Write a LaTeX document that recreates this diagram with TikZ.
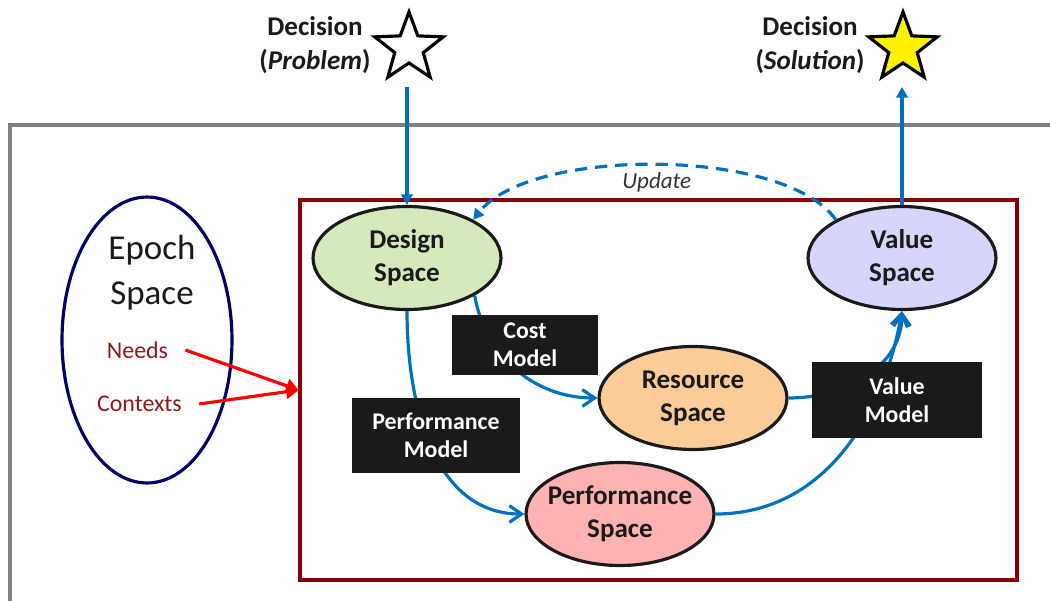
\documentclass[tikz,border=0pt]{standalone}
\usepackage{fontspec}
\setmainfont{Carlito}
\usetikzlibrary{shapes.geometric,arrows.meta}
\definecolor{flowblue}{RGB}{0,112,192}
\definecolor{framered}{RGB}{139,0,0}
\definecolor{epochnavy}{RGB}{0,0,102}
\definecolor{needred}{RGB}{140,26,26}
\definecolor{designgreen}{RGB}{213,233,189}
\definecolor{valuelilac}{RGB}{214,214,253}
\definecolor{resourcepeach}{RGB}{251,204,152}
\definecolor{perfpink}{RGB}{255,178,178}
\definecolor{boxblack}{RGB}{26,26,26}

\begin{document}
\begin{tikzpicture}[x=0.02cm, y=0.02cm,
	space/.style={ellipse, draw=boxblack, line width=1.8pt, inner sep=0pt, minimum width=3.76cm, minimum height=2.06cm},
	spacetext/.style={align=center, text=boxblack, font=\fontsize{15.4}{18.8}\selectfont\bfseries},
	modelbox/.style={fill=boxblack, text=white, align=center, font=\fontsize{13.6}{16}\selectfont\bfseries},
	decstar/.style={star, star points=5, star point ratio=2.4, draw=black, line width=1.8pt, inner sep=0pt, minimum size=1.44cm},
	dectext/.style={align=center, text=boxblack, font=\fontsize{15.4}{19.3}\selectfont\bfseries},
	epochlabel/.style={text=needred, font=\fontsize{13.6}{16}\selectfont, inner xsep=0.34cm},
	flow/.style={draw=flowblue, line width=1.8pt, -{Triangle[length=6pt, width=6.5pt]}},
	feed/.style={draw=flowblue, line width=1.8pt, -{Straight Barb[length=7pt, width=9.5pt]}},
	driver/.style={draw=red, line width=1.8pt, -{Triangle[length=7pt, width=8pt]}}]
	\useasboundingbox (0,0) rectangle (1050,600);
	\clip (0,0) rectangle (1050,600);
	\draw[draw=black!50, line width=2pt] (10,475) rectangle (1080,-20);
	\node[draw=framered, line width=1.8pt, minimum width=14.34cm, minimum height=7.6cm] (frame) at (658.5,210) {};

	\node[ellipse, draw=epochnavy, line width=1.8pt, minimum width=3.4cm, minimum height=5.72cm] (epoch) at (147,260) {};
	\node[align=center, text=boxblack, font=\fontsize{19.9}{25.5}\selectfont] (epochname) at (152,327.5) {Epoch\\Space};
	\node[epochlabel] (needs) at (137.5,250) {Needs};
	\node[epochlabel] (contexts) at (139.5,196) {Contexts};

	\node[space, fill=designgreen] (design) [label={[spacetext]center:{Design\\Space}}] at (407,342) {};
	\node[space, fill=valuelilac] (value) [label={[spacetext]center:{Value\\Space}}] at (902,342) {};
	\node[space, fill=resourcepeach] (resource) [label={[spacetext]center:{Resource\\Space}}] at (693,202) {};
	\node[space, fill=perfpink] (perf) [label={[spacetext]center:{Performance\\Space}}] at (620,86) {};

	\node[decstar, fill=white] (problem) at (409,552) {};
	\node[decstar, fill=yellow] (solution) at (903,552) {};
	\node[dectext] (problemtext) at (315,555) {Decision\\(\textit{Problem})};
	\node[dectext] (solutiontext) at (810,555) {Decision\\(\textit{Solution})};
	\coordinate (problemfoot) at (407,513);
	\coordinate (solutionfoot) at (902,513);

	\draw[flow] (problemfoot) -- (design.north);
	\draw[flow] (value.north) -- (solutionfoot);
	\draw[flow, dash pattern=on 7pt off 4.5pt] (value.150) .. controls (785,453) and (530,453) .. (design.30) node[pos=0.5, below, text=black!80, font=\fontsize{13.1}{15}\selectfont\itshape] {Update};
	\draw[feed] (design.-29) to[out=-80, in=180] (resource.west);
	\draw[feed] (design.south) to[out=-90, in=180] (perf.west);
	\draw[feed] (resource.east) to[out=0, in=-90] (value.south);
	\draw[feed] (perf.east) to[out=0, in=-100] (value.south);
	\draw[driver] (needs.east) -- (frame.west);
	\draw[driver] (contexts.east) -- (frame.west);

	\node[modelbox, minimum width=2.92cm, minimum height=1.2cm] (costmodel) at (525,255) {Cost\\Model};
	\node[modelbox, minimum width=3.36cm, minimum height=1.5cm] (perfmodel) at (436,164.5) {Performance\\Model};
	\node[modelbox, minimum width=3.4cm, minimum height=1.52cm] (valuemodel) at (897,200) {Value\\Model};
\end{tikzpicture}
\end{document}
